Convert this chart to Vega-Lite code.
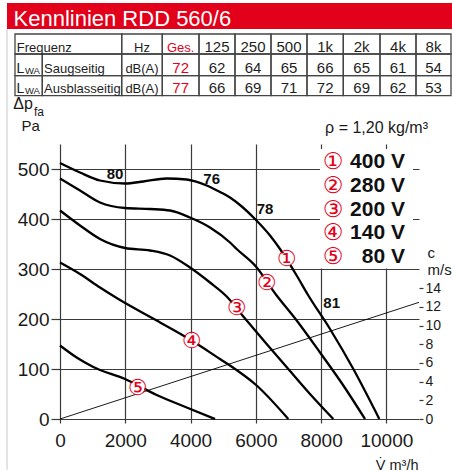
{
  "$schema": "https://vega.github.io/schema/vega-lite/v6.json",
  "padding": {"left": 6, "top": 3, "right": 0, "bottom": 0},
  "background": "white",
  "spacing": 0,
  "bounds": "flush",
  "config": {"view": {"stroke": null}, "font": "Liberation Sans"},
  "vconcat": [
    {
      "width": 450, "height": 26,
      "view": {"fill": "#e2001a", "stroke": null},
      "data": {"values": [{"t": "Kennlinien RDD 560/6"}]},
      "mark": {"type": "text", "color": "white", "fontSize": 22, "align": "left", "baseline": "alphabetic", "dx": 6.5, "dy": -3.5},
      "encoding": {
        "text": {"field": "t"},
        "x": {"datum": 0, "scale": {"domain": [0, 1]}, "axis": null},
        "y": {"datum": 0, "scale": {"domain": [0, 1]}, "axis": null}
      }
    },
    {
      "width": 445, "height": 115,
      "data": {"values": [
        {"r": 0, "r2": 1, "c0": 0, "c1": 2, "t": "Frequenz", "k": "lab"},
        {"r": 0, "r2": 1, "c0": 2, "c1": 3, "t": "Hz", "k": "hdr"},
        {"r": 0, "r2": 1, "c0": 3, "c1": 4, "t": "Ges.", "k": "hdr", "g": true},
        {"r": 0, "r2": 1, "c0": 4, "c1": 5, "t": "125", "k": "val"},
        {"r": 0, "r2": 1, "c0": 5, "c1": 6, "t": "250", "k": "val"},
        {"r": 0, "r2": 1, "c0": 6, "c1": 7, "t": "500", "k": "val"},
        {"r": 0, "r2": 1, "c0": 7, "c1": 8, "t": "1k", "k": "val"},
        {"r": 0, "r2": 1, "c0": 8, "c1": 9, "t": "2k", "k": "val"},
        {"r": 0, "r2": 1, "c0": 9, "c1": 10, "t": "4k", "k": "val"},
        {"r": 0, "r2": 1, "c0": 10, "c1": 11, "t": "8k", "k": "val"},
        {"r": 1, "r2": 2, "c0": 0, "c1": 1, "t": "L", "sub": "WA", "k": "sym"},
        {"r": 1, "r2": 2, "c0": 1, "c1": 2, "t": "Saugseitig", "k": "lab"},
        {"r": 1, "r2": 2, "c0": 2, "c1": 3, "t": "dB(A)", "k": "hdr"},
        {"r": 1, "r2": 2, "c0": 3, "c1": 4, "t": "72", "k": "val", "g": true},
        {"r": 1, "r2": 2, "c0": 4, "c1": 5, "t": "62", "k": "val"},
        {"r": 1, "r2": 2, "c0": 5, "c1": 6, "t": "64", "k": "val"},
        {"r": 1, "r2": 2, "c0": 6, "c1": 7, "t": "65", "k": "val"},
        {"r": 1, "r2": 2, "c0": 7, "c1": 8, "t": "66", "k": "val"},
        {"r": 1, "r2": 2, "c0": 8, "c1": 9, "t": "65", "k": "val"},
        {"r": 1, "r2": 2, "c0": 9, "c1": 10, "t": "61", "k": "val"},
        {"r": 1, "r2": 2, "c0": 10, "c1": 11, "t": "54", "k": "val"},
        {"r": 2, "r2": 3, "c0": 0, "c1": 1, "t": "L", "sub": "WA", "k": "sym"},
        {"r": 2, "r2": 3, "c0": 1, "c1": 2, "t": "Ausblasseitig", "k": "lab"},
        {"r": 2, "r2": 3, "c0": 2, "c1": 3, "t": "dB(A)", "k": "hdr"},
        {"r": 2, "r2": 3, "c0": 3, "c1": 4, "t": "77", "k": "val", "g": true},
        {"r": 2, "r2": 3, "c0": 4, "c1": 5, "t": "66", "k": "val"},
        {"r": 2, "r2": 3, "c0": 5, "c1": 6, "t": "69", "k": "val"},
        {"r": 2, "r2": 3, "c0": 6, "c1": 7, "t": "71", "k": "val"},
        {"r": 2, "r2": 3, "c0": 7, "c1": 8, "t": "72", "k": "val"},
        {"r": 2, "r2": 3, "c0": 8, "c1": 9, "t": "69", "k": "val"},
        {"r": 2, "r2": 3, "c0": 9, "c1": 10, "t": "62", "k": "val"},
        {"r": 2, "r2": 3, "c0": 10, "c1": 11, "t": "53", "k": "val"}
      ]},
      "transform": [{"calculate": "(datum.c0 + datum.c1) / 2", "as": "cm"}],
      "layer": [
        {
          "mark": {"type": "rect", "filled": false, "color": "#454545", "strokeWidth": 1.3},
          "encoding": {
            "x": {"field": "c0", "type": "quantitative", "scale": {"domain": [-1,0,1,2,3,4,5,6,7,8,9,10,11], "range": [0,8,35.3,114.7,155.3,192,228,264,300,336.3,373,409,444], "nice": false, "zero": false}, "axis": null},
            "x2": {"field": "c1"},
            "y": {"field": "r", "type": "quantitative", "scale": {"domain": [-1,0,1,2,3,4], "range": [0,5,25,46.7,66.7,115], "nice": false, "zero": false}, "axis": null},
            "y2": {"field": "r2"}
          }
        },
        {
          "transform": [{"filter": "datum.k === 'lab'"}],
          "mark": {"type": "text", "align": "left", "baseline": "alphabetic", "fontSize": 13, "color": "#1e1e1e", "dx": 1.8, "dy": -2.5},
          "encoding": {
            "x": {"field": "c0", "type": "quantitative"},
            "y": {"field": "r2", "type": "quantitative"},
            "text": {"field": "t"}
          }
        },
        {
          "transform": [{"filter": "datum.k === 'sym'"}],
          "mark": {"type": "text", "align": "left", "baseline": "alphabetic", "fontSize": 14, "color": "#1e1e1e", "dx": 1.5, "dy": -2.5},
          "encoding": {
            "x": {"field": "c0", "type": "quantitative"},
            "y": {"field": "r2", "type": "quantitative"},
            "text": {"field": "t"}
          }
        },
        {
          "transform": [{"filter": "datum.k === 'hdr'"}],
          "mark": {"type": "text", "align": "center", "baseline": "alphabetic", "fontSize": 13, "dy": -2.5},
          "encoding": {
            "x": {"field": "cm", "type": "quantitative"},
            "y": {"field": "r2", "type": "quantitative"},
            "text": {"field": "t"},
            "color": {"condition": {"test": "datum.g", "value": "#e2001a"}, "value": "#1e1e1e"}
          }
        },
        {
          "transform": [{"filter": "datum.k === 'val'"}],
          "mark": {"type": "text", "align": "center", "baseline": "alphabetic", "fontSize": 15, "dy": -2.5},
          "encoding": {
            "x": {"field": "cm", "type": "quantitative"},
            "y": {"field": "r2", "type": "quantitative"},
            "text": {"field": "t"},
            "color": {"condition": {"test": "datum.g", "value": "#e2001a"}, "value": "#1e1e1e"}
          }
        },
        {
          "transform": [{"filter": "datum.sub"}],
          "mark": {"type": "text", "align": "left", "baseline": "alphabetic", "fontSize": 9.5, "color": "#1e1e1e", "dx": 10, "dy": -2.2},
          "encoding": {
            "x": {"field": "c0", "type": "quantitative"},
            "y": {"field": "r2", "type": "quantitative"},
            "text": {"field": "sub"}
          }
        },
        {
          "data": {"values": [{}]},
          "mark": {"type": "rule", "color": "#c8c8c8", "strokeWidth": 1},
          "encoding": {
            "x": {"datum": -1},
            "y": {"datum": -1},
            "y2": {"datum": 4}
          }
        }
      ]
    },
    {
      "spacing": 0,
      "bounds": "flush",
      "hconcat": [
        {
          "width": 53, "height": 326,
          "data": {"values": [{}]},
          "mark": {"type": "rule", "color": "#c8c8c8", "strokeWidth": 1},
          "encoding": {
            "x": {"datum": 0, "scale": {"domain": [0, 1]}, "axis": null},
            "y": {"datum": 0, "scale": {"domain": [0, 1]}, "axis": null},
            "y2": {"datum": 1}
          }
        },
        {
          "width": 359, "height": 275,
          "resolve": {"scale": {"y": "independent"}, "axis": {"y": "independent"}},
          "layer": [
            {
              "data": {"values": [{"V": 0, "c": 0}, {"V": 11000, "c": 12.5}]},
              "mark": {"type": "line", "color": "black", "strokeWidth": 0.9},
              "encoding": {
                "x": {"field": "V", "type": "quantitative", "scale": {"domain": [0, 11000], "nice": false, "zero": true},
                  "axis": {"values": [0,1000,2000,3000,4000,5000,6000,7000,8000,9000,10000,11000], "format": "d",
                    "labelExpr": "datum.value % 2000 === 0 ? datum.label : ''",
                    "grid": true, "gridColor": "#3a3a3a", "gridWidth": 1.2, "domain": false,
                    "tickColor": "#3a3a3a", "tickWidth": 1.2, "tickSize": 4,
                    "labelFontSize": 19, "labelColor": "#1a1a1a", "labelPadding": 8, "labelFlush": false, "labelOverlap": false,
                    "title": "V\u0307  m³/h", "titleFontSize": 14.5, "titleFontWeight": "normal", "titleColor": "#1a1a1a",
                    "titleAlign": "right", "titleAnchor": "end", "titleX": 358, "titleY": 50, "titleBaseline": "alphabetic"}},
                "y": {"field": "c", "type": "quantitative", "scale": {"domain": [0, 29.464], "nice": false, "zero": true},
                  "axis": {"orient": "right", "values": [0,2,4,6,8,10,12,14], "grid": false, "domain": false,
                    "tickColor": "#3a3a3a", "tickWidth": 1.2, "tickSize": 4,
                    "labelFontSize": 14, "labelColor": "#1a1a1a", "labelPadding": 2, "labelFlush": false,
                    "title": ["c", "m/s"], "titleAngle": 0, "titleAlign": "left", "titleBaseline": "alphabetic",
                    "titleX": 8, "titleY": 113, "titleFontSize": 15, "titleFontWeight": "normal", "titleColor": "#1a1a1a", "titleLineHeight": 17}}
              }
            },
            {
              "layer": [
                {
                  "data": {"values": [{}]},
                  "mark": {"type": "rect", "color": "white"},
                  "encoding": {
                    "x": {"datum": 7967}, "x2": {"datum": 10816},
                    "y": {"datum": 540, "scale": {"domain": [0, 550], "nice": false, "zero": true}}, "y2": {"datum": 301}
                  }
                },
                {
                  "data": {"values": [
                    {"s": "400 V", "V": 0, "p": 512}, {"s": "400 V", "V": 613, "p": 493}, {"s": "400 V", "V": 1226, "p": 477},
                    {"s": "400 V", "V": 1992, "p": 471}, {"s": "400 V", "V": 2553, "p": 475}, {"s": "400 V", "V": 3268, "p": 481},
                    {"s": "400 V", "V": 3880, "p": 479}, {"s": "400 V", "V": 4495, "p": 467}, {"s": "400 V", "V": 4903, "p": 454},
                    {"s": "400 V", "V": 5209, "p": 443}, {"s": "400 V", "V": 5515, "p": 428}, {"s": "400 V", "V": 5975, "p": 400},
                    {"s": "400 V", "V": 6435, "p": 367}, {"s": "400 V", "V": 6741, "p": 340}, {"s": "400 V", "V": 7252, "p": 287},
                    {"s": "400 V", "V": 7600, "p": 248}, {"s": "400 V", "V": 8273, "p": 180}, {"s": "400 V", "V": 8988, "p": 100},
                    {"s": "400 V", "V": 9785, "p": 0},
                    {"s": "280 V", "V": 0, "p": 481}, {"s": "280 V", "V": 613, "p": 457}, {"s": "280 V", "V": 1226, "p": 433},
                    {"s": "280 V", "V": 1992, "p": 422}, {"s": "280 V", "V": 2758, "p": 420}, {"s": "280 V", "V": 3371, "p": 417},
                    {"s": "280 V", "V": 3983, "p": 403}, {"s": "280 V", "V": 4596, "p": 383}, {"s": "280 V", "V": 5209, "p": 353},
                    {"s": "280 V", "V": 5413, "p": 340}, {"s": "280 V", "V": 5975, "p": 307}, {"s": "280 V", "V": 6639, "p": 247},
                    {"s": "280 V", "V": 7252, "p": 197}, {"s": "280 V", "V": 7967, "p": 133}, {"s": "280 V", "V": 8682, "p": 67},
                    {"s": "280 V", "V": 9345, "p": 0},
                    {"s": "200 V", "V": 0, "p": 417}, {"s": "200 V", "V": 613, "p": 387}, {"s": "200 V", "V": 1226, "p": 360},
                    {"s": "200 V", "V": 1992, "p": 342}, {"s": "200 V", "V": 2758, "p": 337}, {"s": "200 V", "V": 3371, "p": 327},
                    {"s": "200 V", "V": 3983, "p": 303}, {"s": "200 V", "V": 4596, "p": 273}, {"s": "200 V", "V": 5107, "p": 245},
                    {"s": "200 V", "V": 5617, "p": 205}, {"s": "200 V", "V": 6332, "p": 150}, {"s": "200 V", "V": 6995, "p": 100},
                    {"s": "200 V", "V": 7660, "p": 50}, {"s": "200 V", "V": 8374, "p": 0},
                    {"s": "140 V", "V": 0, "p": 313}, {"s": "140 V", "V": 613, "p": 290}, {"s": "140 V", "V": 1226, "p": 263},
                    {"s": "140 V", "V": 1788, "p": 240}, {"s": "140 V", "V": 2962, "p": 197}, {"s": "140 V", "V": 4034, "p": 157},
                    {"s": "140 V", "V": 4903, "p": 120}, {"s": "140 V", "V": 5209, "p": 107}, {"s": "140 V", "V": 6026, "p": 67},
                    {"s": "140 V", "V": 6995, "p": 0},
                    {"s": "80 V", "V": 0, "p": 147}, {"s": "80 V", "V": 510, "p": 123}, {"s": "80 V", "V": 1021, "p": 104},
                    {"s": "80 V", "V": 1992, "p": 80}, {"s": "80 V", "V": 2962, "p": 48}, {"s": "80 V", "V": 3882, "p": 23},
                    {"s": "80 V", "V": 4750, "p": 0}
                  ]},
                  "mark": {"type": "line", "color": "black", "strokeWidth": 2.3, "interpolate": "monotone"},
                  "encoding": {
                    "x": {"field": "V", "type": "quantitative"},
                    "y": {"field": "p", "type": "quantitative",
                      "axis": {"values": [0,50,100,150,200,250,300,350,400,450,500,550],
                        "labelExpr": "datum.value % 100 === 0 ? datum.label : ''",
                        "grid": true, "gridColor": "#3a3a3a", "gridWidth": 1.2, "domain": false,
                        "tickColor": "#3a3a3a", "tickWidth": 1.2, "tickSize": 9,
                        "tickOpacity": {"condition": {"test": "datum.value % 100 === 0", "value": 1}, "value": 0},
                        "labelFontSize": 19, "labelColor": "#1a1a1a", "labelPadding": 2, "labelFlush": false, "title": null}},
                    "detail": {"field": "s"}
                  }
                },
                {
                  "data": {"values": [
                    {"n": "①", "V": 6946, "p": 320}, {"n": "②", "V": 6333, "p": 273}, {"n": "③", "V": 5414, "p": 223},
                    {"n": "④", "V": 4034, "p": 157}, {"n": "⑤", "V": 2380, "p": 63}
                  ]},
                  "layer": [
                    {"mark": {"type": "point", "filled": true, "color": "white", "opacity": 1, "size": 200, "strokeWidth": 0},
                     "encoding": {"x": {"field": "V", "type": "quantitative"}, "y": {"field": "p", "type": "quantitative"}}},
                    {"mark": {"type": "text", "font": "DejaVu Sans", "fontSize": 22, "color": "#e2001a", "align": "center", "baseline": "middle"},
                     "encoding": {"x": {"field": "V", "type": "quantitative"}, "y": {"field": "p", "type": "quantitative"}, "text": {"field": "n"}}}
                  ]
                },
                {
                  "data": {"values": [
                    {"lab": "80", "V": 1685, "p": 490}, {"lab": "76", "V": 4648, "p": 481},
                    {"lab": "78", "V": 6281, "p": 420}, {"lab": "81", "V": 8325, "p": 233}
                  ]},
                  "mark": {"type": "text", "fontSize": 15, "fontWeight": "bold", "color": "#111", "align": "center", "baseline": "middle"},
                  "encoding": {"x": {"field": "V", "type": "quantitative"}, "y": {"field": "p", "type": "quantitative"}, "text": {"field": "lab"}}
                },
                {
                  "data": {"values": [{}]},
                  "mark": {"type": "text", "text": "Δp", "fontSize": 16, "color": "#1a1a1a", "align": "left", "baseline": "alphabetic", "dx": -46.7, "dy": -35},
                  "encoding": {"x": {"datum": 0}, "y": {"datum": 550}}
                },
                {
                  "data": {"values": [{}]},
                  "mark": {"type": "text", "text": "fa", "fontSize": 12, "color": "#1a1a1a", "align": "left", "baseline": "alphabetic", "dx": -26, "dy": -28.5},
                  "encoding": {"x": {"datum": 0}, "y": {"datum": 550}}
                },
                {
                  "data": {"values": [{}]},
                  "mark": {"type": "text", "text": "Pa", "fontSize": 15, "color": "#1a1a1a", "align": "left", "baseline": "alphabetic", "dx": -38.5, "dy": -13.3},
                  "encoding": {"x": {"datum": 0}, "y": {"datum": 550}}
                },
                {
                  "data": {"values": [{}]},
                  "mark": {"type": "text", "text": "ρ = 1,20 kg/m³", "fontSize": 16, "color": "#1a1a1a", "align": "right", "baseline": "alphabetic", "dx": 9, "dy": -11},
                  "encoding": {"x": {"datum": 11000}, "y": {"datum": 550}}
                }
              ]
            },
            {
              "data": {"values": [
                {"n": "①", "volt": "400 V"}, {"n": "②", "volt": "280 V"}, {"n": "③", "volt": "200 V"},
                {"n": "④", "volt": "140 V"}, {"n": "⑤", "volt": "80 V"}
              ]},
              "layer": [
                {"mark": {"type": "text", "font": "DejaVu Sans", "fontSize": 23, "color": "#e2001a", "align": "center", "baseline": "middle"},
                 "encoding": {
                   "x": {"datum": 8365},
                   "y": {"field": "volt", "type": "ordinal", "scale": {"type": "point", "domain": ["400 V", "280 V", "200 V", "140 V", "80 V"], "range": [18, 113], "padding": 0}, "axis": null},
                   "text": {"field": "n"}}},
                {"mark": {"type": "text", "fontSize": 21, "fontWeight": "bold", "color": "#111", "align": "right", "baseline": "middle"},
                 "encoding": {
                   "x": {"datum": 10571},
                   "y": {"field": "volt", "type": "ordinal"},
                   "text": {"field": "volt"}}}
              ]
            }
          ]
        }
      ]
    }
  ]
}
